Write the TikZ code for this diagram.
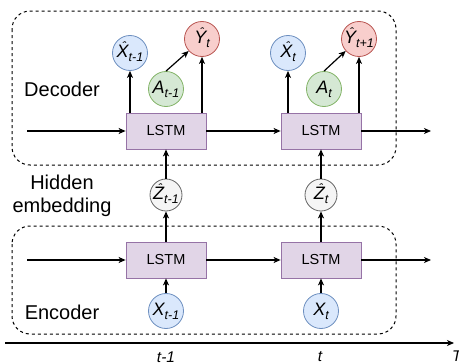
\documentclass[tikz,border=0pt]{standalone}
\usepackage{fontspec}
\setmainfont{Liberation Sans}
\usetikzlibrary{arrows.meta}
\definecolor{bluef}{HTML}{DAE8FC}\definecolor{blued}{HTML}{6C8EBF}
\definecolor{redf}{HTML}{F8CECC}\definecolor{redd}{HTML}{B85450}
\definecolor{greenf}{HTML}{D5E8D4}\definecolor{greend}{HTML}{82B366}
\definecolor{purpf}{HTML}{E1D5E7}\definecolor{purpd}{HTML}{9673A6}
\definecolor{grayf}{HTML}{F5F5F5}\definecolor{grayd}{HTML}{666666}
\newcommand\hatl[1]{\leavevmode\setbox0\hbox{#1}\rlap{\hbox to\wd0{\hss\kern3pt\raisebox{7pt}[0pt][0pt]{\fontsize{12}{12}\selectfont ˆ}\hss}}\box0}
\newcommand\lab[2]{{\fontsize{18}{18}\selectfont\itshape #1}{\fontsize{12.5}{12.5}\selectfont\itshape\raisebox{-0.3em}{#2}}}
\begin{document}
\begin{tikzpicture}[x=1pt,y=-1pt,
  circ/.style={circle,draw,line width=0.8pt,minimum size=35pt,inner sep=0pt},
  zcirc/.style={circle,draw=grayd,fill=grayf,line width=0.8pt,minimum size=32pt,inner sep=0pt},
  bluec/.style={circ,draw=blued,fill=bluef},
  redc/.style={circ,draw=redd,fill=redf},
  greenc/.style={circ,draw=greend,fill=greenf},
  lstm/.style={draw=purpd,fill=purpf,line width=0.8pt,minimum width=80pt,minimum height=36pt,inner sep=0pt,font=\fontsize{14.5}{14.5}\selectfont},
  group/.style={draw=black,line width=1pt,dash pattern=on 3pt off 3pt,rounded corners=18pt},
  arr/.style={line width=1.2pt,-{Stealth[length=7pt,width=6pt,inset=2pt]}},
  txt/.style={font=\fontsize{20}{23}\selectfont,align=center,inner sep=0pt},
  axl/.style={font=\fontsize{15.5}{15.5}\selectfont\itshape,inner sep=0pt}
]
\useasboundingbox (0,0) rectangle (459,364);
% groups
\draw[group] (12,11) rectangle (396,165);
\draw[group] (12,226) rectangle (396,334);
% decoder
\node[lstm] (L1) at (166,131) {LSTM};
\node[lstm] (L2) at (321,131) {LSTM};
\node[bluec] (xh1) at (130,53) {\lab{\hatl{X}}{t-1}};
\node[redc] (yh1) at (202,39) {\lab{\hatl{Y}}{t}};
\node[greenc] (a1) at (166,89) {\lab{A}{t-1}};
\node[bluec] (xh2) at (288,53) {\lab{\hatl{X}}{t}};
\node[redc] (yh2) at (359,39) {\lab{\hatl{Y}}{t+1}};
\node[greenc] (a2) at (324,89) {\lab{A}{t}};
\coordinate (din) at (27,131);
\coordinate (dout) at (431,131);
\draw[arr] (din) -- (L1.west);
\draw[arr] (L1.east) -- (L2.west);
\draw[arr] (L2.east) -- (dout);
\draw[arr] (L1.north -| xh1.south) -- (xh1.south);
\draw[arr] (L1.north -| yh1.south) -- (yh1.south);
\draw[arr] (L2.north -| xh2.south) -- (xh2.south);
\draw[arr] (L2.north -| yh2.south) -- (yh2.south);
\draw[arr] (a1.north) -- (yh1.222);
\draw[arr] (a2.north) -- (yh2.222);
% hidden
\node[zcirc] (z1) at (166,195) {\lab{\hatl{Z}}{t-1}};
\node[zcirc] (z2) at (321,195) {\lab{\hatl{Z}}{t}};
% encoder
\node[lstm] (E1) at (166,260) {LSTM};
\node[lstm] (E2) at (321,260) {LSTM};
\node[bluec] (x1) at (166,311) {\lab{X}{t-1}};
\node[bluec] (x2) at (321,311) {\lab{X}{t}};
\coordinate (ein) at (27,260);
\coordinate (eout) at (431,260);
\draw[arr] (ein) -- (E1.west);
\draw[arr] (E1.east) -- (E2.west);
\draw[arr] (E2.east) -- (eout);
\draw[arr] (x1) -- (E1);
\draw[arr] (x2) -- (E2);
\draw[arr] (E1) -- (z1);
\draw[arr] (E2) -- (z2);
\draw[arr] (z1) -- (L1);
\draw[arr] (z2) -- (L2);
% labels
\node[txt] (dec) at (62,89) {Decoder};
\node[txt] (enc) at (62,312) {Encoder};
\node[txt] (hid) at (62,196) {Hidden\\embedding};
% axis
\coordinate (a0) at (5,343);
\coordinate (aT) at (454,343);
\draw[arr] (a0) -- (aT);
\node[axl] (t1) at (166,357) {t-1};
\node[axl] (t2) at (320,357) {t};
\node[axl,anchor=west] (tT) at (452,356) {T};
\end{tikzpicture}
\end{document}
